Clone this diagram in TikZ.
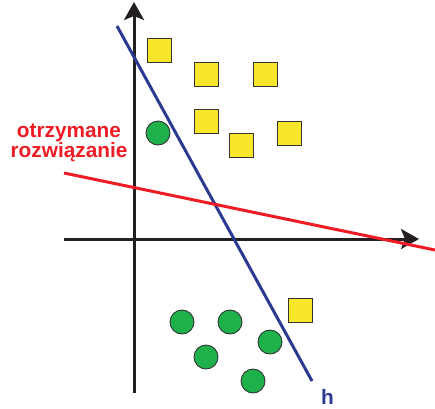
\documentclass[tikz,border=0pt]{standalone}
\usepackage{fontspec}
\setmainfont{Liberation Sans}
\usetikzlibrary{arrows.meta}
\definecolor{sqyellow}{HTML}{F8E62B}
\definecolor{cgreen}{HTML}{1EB04B}
\definecolor{lred}{HTML}{EE1C25}
\definecolor{lblue}{HTML}{2B3990}
\definecolor{axblack}{HTML}{231F20}
\begin{document}
\begin{tikzpicture}[x=1pt,y=-1pt,
  axis/.style={line width=3pt,draw=axblack,-{Stealth[length=18pt,width=20pt,inset=4pt]}},
  sq/.style={rectangle,draw=black!80,line width=0.9pt,fill=sqyellow,minimum size=24pt,inner sep=0pt},
  dot/.style={circle,draw=black!80,line width=0.9pt,fill=cgreen,minimum size=24pt,inner sep=0pt},
  lbl/.style={inner sep=0pt,font=\bfseries\fontsize{20.8}{20}\selectfont}]
\useasboundingbox (0,0) rectangle (435,408);
% axes
\coordinate (ybot) at (134,393);
\coordinate (ytop) at (134,2);
\coordinate (xl) at (64,239);
\coordinate (xr) at (419,239);
\draw[axis] (ybot) -- (ytop);
\draw[axis] (xl) -- (xr);
% lines
\coordinate (b1) at (117,26);
\coordinate (b2) at (312,381);
\coordinate (r1) at (64,173);
\coordinate (r2) at (435,250);
\draw[line width=3pt,lblue] (b1) -- (b2);
\draw[line width=3pt,lred] (r1) -- (r2);
% squares
\node[sq] (s1) at (159,50) {};
\node[sq] (s2) at (206,74) {};
\node[sq] (s3) at (265,74) {};
\node[sq] (s4) at (206,121) {};
\node[sq] (s5) at (241,145) {};
\node[sq] (s6) at (289,133) {};
\node[sq] (s7) at (300,310) {};
% circles
\node[dot] (c1) at (158,133) {};
\node[dot] (c2) at (182,322) {};
\node[dot] (c3) at (206,357) {};
\node[dot] (c4) at (230,322) {};
\node[dot] (c5) at (270,342) {};
\node[dot] (c6) at (253,381) {};
% labels
\node[lbl,lred,anchor=base] (t1) at (69,137) {otrzymane};
\node[lbl,lred,anchor=base] (t2) at (69,157) {rozwiązanie};
\node[lbl,lblue,anchor=base west] (h) at (321,404) {h};
\end{tikzpicture}
\end{document}
